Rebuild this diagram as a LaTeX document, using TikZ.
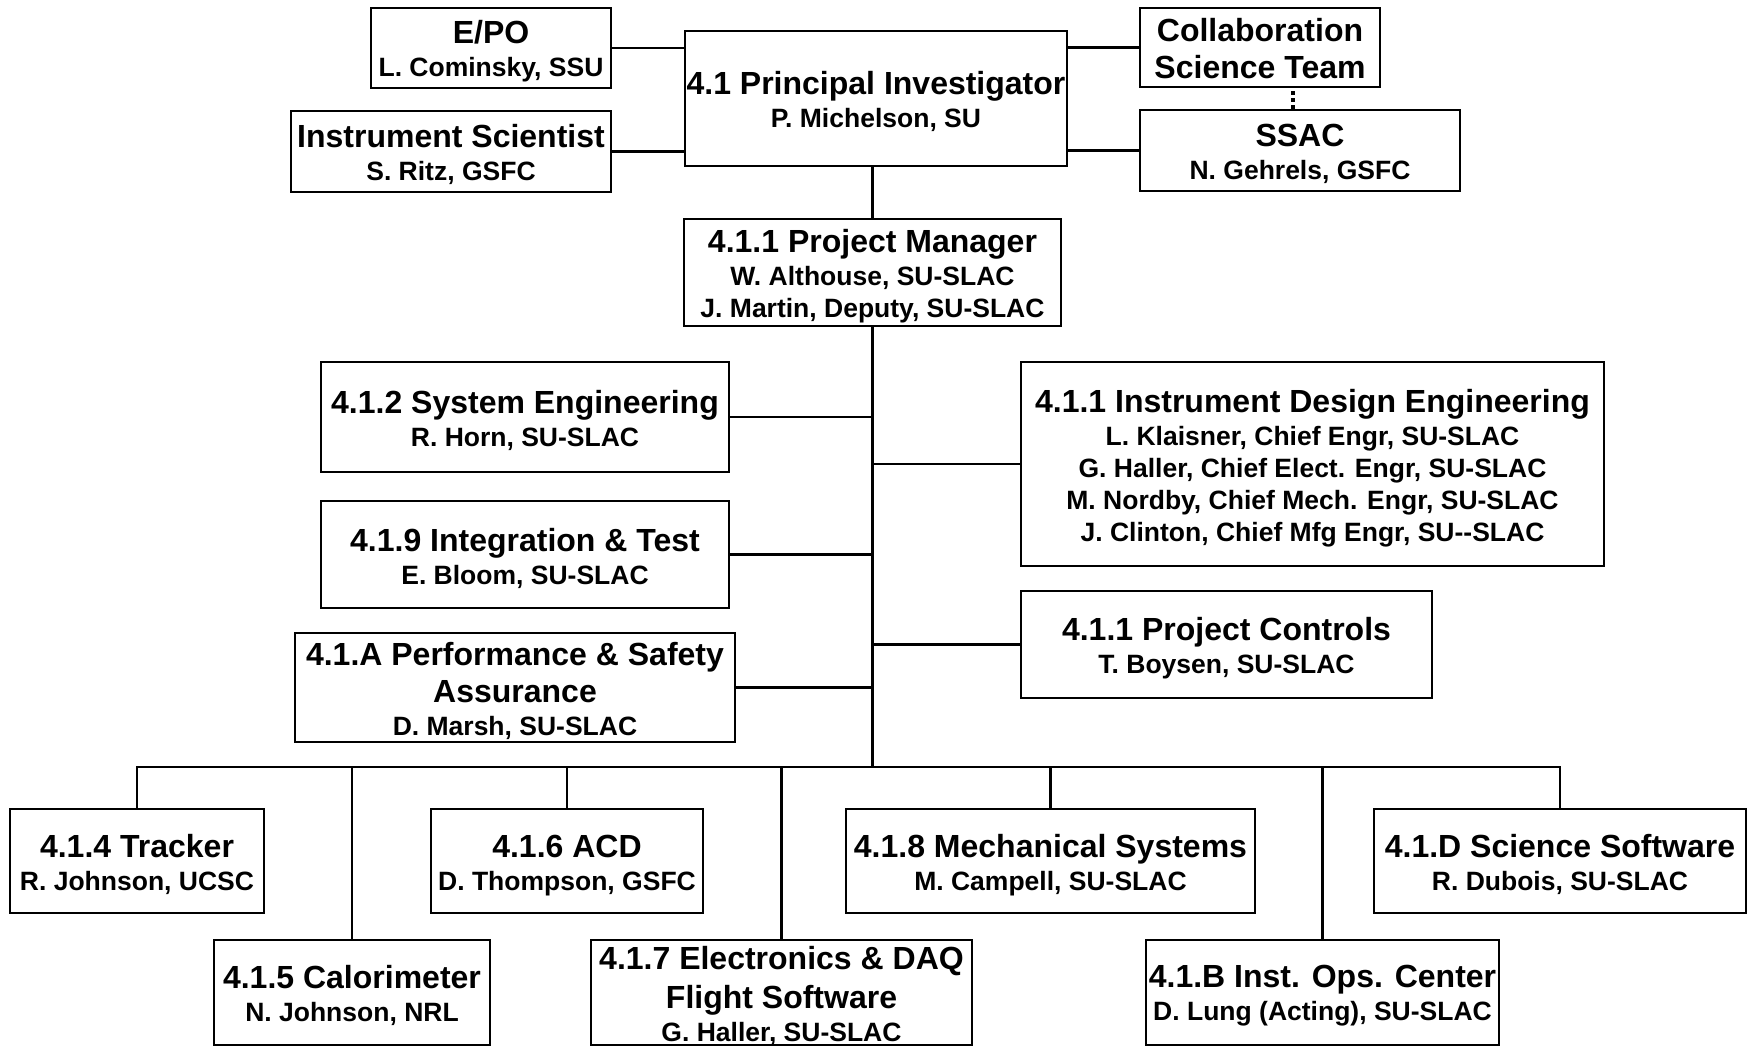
\documentclass[tikz,border=0pt]{standalone}
\usepackage{fontspec}
\setmainfont{Liberation Sans}
\newcommand\nmfont{\fontsize{26.5}{32}\selectfont\bfseries}
\newcommand\mytitle[1]{{\fontsize{32}{32}\selectfont #1}}
\newcommand\topst{\rule{0pt}{31pt}}
\begin{document}
\begin{tikzpicture}[x=1pt,y=-1pt,
  box/.style={draw=black, line width=2.3pt, fill=white, inner sep=0pt, align=center, font=\nmfont},
  conn/.style={draw=black, line width=2.2pt},
  dotconn/.style={draw=black, line width=3.5pt, dash pattern=on 3.5pt off 3.5pt},
]
\useasboundingbox[fill=white] (0,0) rectangle (1748,1046);
% top level
\node[box, minimum width=382pt, minimum height=135pt] (pi) at (876,98.5) {\rule{0pt}{29.5pt}\mytitle{4.1 Principal Investigator}\\[1pt]P. Michelson, SU};
\node[box, minimum width=240pt, minimum height=80pt] (epo) at (491,48) {\rule{0pt}{29.5pt}\mytitle{E/PO}\\[1pt]L. Cominsky, SSU};
\node[box, minimum width=320pt, minimum height=81pt] (isci) at (451,151.5) {\rule{0pt}{29.5pt}\mytitle{Instrument Scientist}\\[1pt]S. Ritz, GSFC};
\node[box, minimum width=240pt, minimum height=79pt] (cst) at (1260,47.5) {\rule{0pt}{25.5pt}\mytitle{Collaboration}\\[5pt]\mytitle{Science Team}};
\node[box, minimum width=320pt, minimum height=81pt] (ssac) at (1300,150.5) {\rule{0pt}{29.5pt}\mytitle{SSAC}\\[1pt]N. Gehrels, GSFC};
% project manager
\node[box, minimum width=377pt, minimum height=107pt] (pm) at (872.5,272.5) {\rule{0pt}{29.5pt}\mytitle{4.1.1 Project Manager}\\[1pt]W. Althouse, SU-SLAC\\J. Martin, Deputy, SU-SLAC};
% side boxes
\node[box, minimum width=408pt, minimum height=110pt] (se) at (525,417) {\topst\mytitle{4.1.2 System Engineering}\\[1pt]R. Horn, SU-SLAC};
\node[box, minimum width=408pt, minimum height=107pt] (it) at (525,554.5) {\topst\mytitle{4.1.9 Integration \& Test}\\[1pt]E. Bloom, SU-SLAC};
\node[box, minimum width=440pt, minimum height=109pt] (psa) at (515,687.5) {\rule{0pt}{29.5pt}\mytitle{4.1.A Performance \& Safety}\\[5pt]\mytitle{Assurance}\\[1pt]D. Marsh, SU-SLAC};
\node[box, minimum width=583pt, minimum height=204pt] (ide) at (1312.5,464) {\rule{0pt}{32pt}\mytitle{4.1.1 Instrument Design Engineering}\\[1pt]L. Klaisner, Chief Engr, SU-SLAC\\G. Haller, Chief Elect. Engr, SU-SLAC\\M. Nordby, Chief Mech. Engr, SU-SLAC\\J. Clinton, Chief Mfg Engr, SU-{}-SLAC};
\node[box, minimum width=411pt, minimum height=107pt] (pc) at (1226.5,644.5) {\rule{0pt}{29.5pt}\mytitle{4.1.1 Project Controls}\\[1pt]T. Boysen, SU-SLAC};
% bottom rows
\node[box, minimum width=254pt, minimum height=104pt] (trk) at (137,861) {\topst\mytitle{4.1.4 Tracker}\\[1pt]R. Johnson, UCSC};
\node[box, minimum width=272pt, minimum height=104pt] (acd) at (567,861) {\topst\mytitle{4.1.6 ACD}\\[1pt]D. Thompson, GSFC};
\node[box, minimum width=409pt, minimum height=104pt] (mech) at (1050.5,861) {\topst\mytitle{4.1.8 Mechanical Systems}\\[1pt]M. Campell, SU-SLAC};
\node[box, minimum width=372pt, minimum height=104pt] (sw) at (1560,861) {\topst\mytitle{4.1.D Science Software}\\[1pt]R. Dubois, SU-SLAC};
\node[box, minimum width=276pt, minimum height=105pt] (cal) at (352,992.5) {\rule{0pt}{29.5pt}\mytitle{4.1.5 Calorimeter}\\[1pt]N. Johnson, NRL};
\node[box, minimum width=381pt, minimum height=105pt] (elec) at (781.5,992.5) {\rule{0pt}{29.5pt}\mytitle{4.1.7 Electronics \& DAQ}\\[7pt]\mytitle{Flight Software}\\[1pt]G. Haller, SU-SLAC};
\node[box, minimum width=353pt, minimum height=105pt] (ioc) at (1322.5,992.5) {\rule{0pt}{29.5pt}\mytitle{4.1.B Inst. Ops. Center}\\[1pt]D. Lung (Acting), SU-SLAC};
\coordinate (bar) at (872.5,767);
% connectors top
\draw[conn] (epo.east) -- (epo.east -| pi.west);
\draw[conn] (isci.east) -- (isci.east -| pi.west);
\draw[conn] (cst.west) -- (cst.west -| pi.east);
\draw[conn] (ssac.west) -- (ssac.west -| pi.east);
\draw[dotconn] ([xshift=-7pt]ssac.north) -- ([xshift=-7pt]ssac.north |- cst.south);
\draw[conn] (pm.north) -- (pm.north |- pi.south);
% spine
\draw[conn] (pm.south) -- (bar);
\draw[conn] (se.east) -- (se.east -| bar);
\draw[conn] (it.east) -- (it.east -| bar);
\draw[conn] (psa.east) -- (psa.east -| bar);
\draw[conn] (ide.west) -- (ide.west -| bar);
\draw[conn] (pc.west) -- (pc.west -| bar);
% bottom bar
\draw[conn] (trk.north) -- (trk.north |- bar) -- (sw.north |- bar) -- (sw.north);
\draw[conn] (cal.north) -- (cal.north |- bar);
\draw[conn] (acd.north) -- (acd.north |- bar);
\draw[conn] (elec.north) -- (elec.north |- bar);
\draw[conn] (mech.north) -- (mech.north |- bar);
\draw[conn] (ioc.north) -- (ioc.north |- bar);
\end{tikzpicture}
\end{document}
